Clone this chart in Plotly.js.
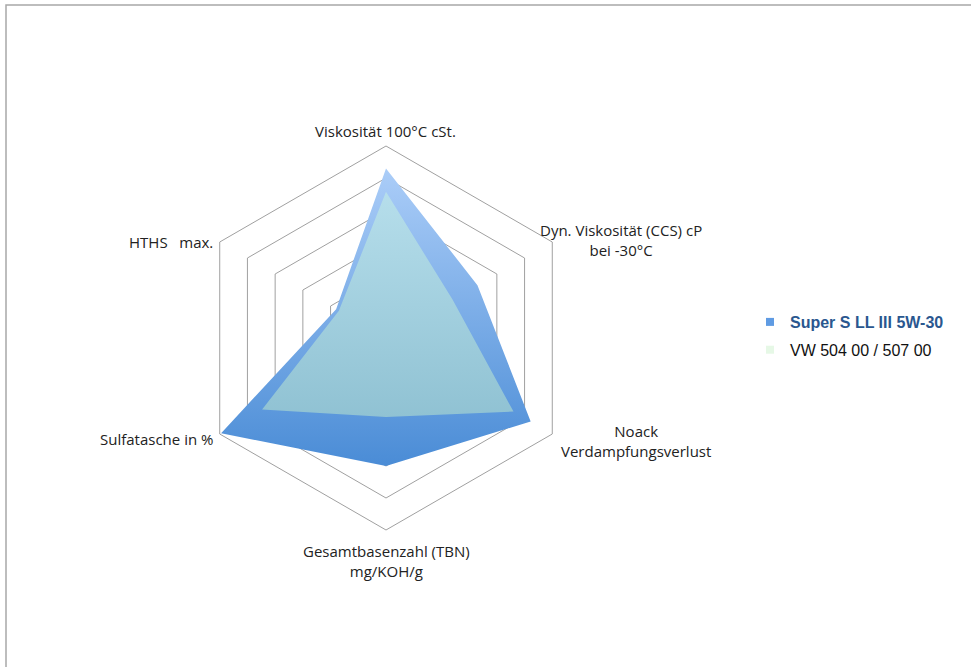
<!DOCTYPE html>
<html>
<head>
<meta charset="utf-8">
<script src="https://cdn.plot.ly/plotly-3.0.1.min.js"></script>
<style>
html, body { margin: 0; padding: 0; background: #fff; }
#chart { width: 971px; height: 667px; }
</style>
</head>
<body>
<div id="chart"></div>
<script>
// ---- data ----
var categories = [
  "Viskosität 100°C cSt.",
  "Dyn. Viskosität (CCS) cP<br>bei -30°C",
  "Noack<br>Verdampfungsverlust",
  "Gesamtbasenzahl (TBN)<br>mg/KOH/g",
  "Sulfatasche in %",
  "HTHS   max."
];
var seriesNames = ["Super S LL III 5W-30", "VW 504 00 / 507 00"];
var superS = [5.3, 3.3, 5.22, 4.0, 5.95, 1.8];
var vw = [4.57, 2.4, 4.6, 2.47, 4.47, 1.7];
var radialMax = 6;

// ---- layout helpers ----
var W = 971, H = 667;
function px(x) { return x / W; }
function py(y) { return 1 - y / H; }

var labelFont = { family: "'Open Sans', Lato, sans-serif", size: 15, color: "#222" };
var labelPos = [
  { x: 385, y: 131, xa: "center" },
  { x: 621, y: 240, xa: "center" },
  { x: 636, y: 441, xa: "center" },
  { x: 386, y: 561, xa: "center" },
  { x: 215, y: 439, xa: "right" },
  { x: 215, y: 242, xa: "right" }
];
var annotations = categories.map(function (c, i) {
  return {
    text: c, xref: "paper", yref: "paper",
    x: px(labelPos[i].x), y: py(labelPos[i].y),
    xanchor: labelPos[i].xa, yanchor: "middle", align: "center",
    showarrow: false, font: labelFont
  };
});

var traces = [
  {
    type: "scatterpolar", r: superS, theta: categories, fill: "toself",
    mode: "lines", line: { width: 0, color: "#5b98e0" },
    fillcolor: "#6ea5e6",
    showlegend: false, hoverinfo: "skip"
  },
  {
    type: "scatterpolar", r: vw, theta: categories, fill: "toself",
    mode: "lines", line: { width: 0, color: "#a3d0df" },
    fillcolor: "#a3d0df",
    showlegend: false, hoverinfo: "skip"
  },
  {
    type: "scatterpolar", r: [null], theta: [categories[0]], mode: "markers",
    marker: { symbol: "square", size: 8, color: "#5f9be3" },
    name: "<b><span style='color:#2a578f'>" + seriesNames[0] + "</span></b>",
    legendgroup: "a", showlegend: true
  },
  {
    type: "scatterpolar", r: [null], theta: [categories[0]], mode: "markers",
    marker: { symbol: "square", size: 8, color: "#e6f8e6" },
    name: seriesNames[1], legendgroup: "b", showlegend: true
  }
];

var layout = {
  width: W, height: H,
  margin: { l: 0, r: 0, t: 0, b: 0 },
  paper_bgcolor: "#fff",
  showlegend: true,
  legend: {
    x: px(750), y: py(336), xanchor: "left", yanchor: "middle",
    font: { family: "'Liberation Sans', Arial, sans-serif", size: 16, color: "#111" },
    tracegroupgap: 4, bgcolor: "rgba(0,0,0,0)"
  },
  polar: {
    domain: { x: [px(386 - 192), px(386 + 192)], y: [py(338 + 192), py(338 - 192)] },
    gridshape: "linear",
    bgcolor: "rgba(0,0,0,0)",
    radialaxis: {
      range: [0, radialMax], dtick: 1, showticklabels: false, ticks: "",
      showline: false, gridcolor: "#a0a0a0", gridwidth: 1
    },
    angularaxis: {
      rotation: 90, direction: "clockwise", showticklabels: false, ticks: "",
      showgrid: false, showline: true, linecolor: "#a0a0a0", linewidth: 1
    }
  },
  annotations: annotations,
  shapes: [
    { type: "rect", xref: "paper", yref: "paper", x0: px(6), x1: 1.2, y0: -0.2, y1: py(5),
      line: { color: "#a8a8a8", width: 1.5 }, fillcolor: "rgba(0,0,0,0)" }
  ]
};

// vertical gradients for the two area fills (colour styling only)
var gradients = [
  { id: "gradSuper", top: "#abcdf8", bottom: "#4a8cd6" },
  { id: "gradVW", top: "#b6deeb", bottom: "#90c2d3" }
];

Plotly.newPlot("chart", traces, layout, { displayModeBar: false, staticPlot: true }).then(function (gd) {
  var svg = gd.querySelector("svg.main-svg");
  var defs = svg.querySelector("defs");
  var ns = "http://www.w3.org/2000/svg";
  gradients.forEach(function (g) {
    var lg = document.createElementNS(ns, "linearGradient");
    lg.setAttribute("id", g.id);
    lg.setAttribute("x1", "0"); lg.setAttribute("y1", "0");
    lg.setAttribute("x2", "0"); lg.setAttribute("y2", "1");
    [[0, g.top], [1, g.bottom]].forEach(function (s) {
      var st = document.createElementNS(ns, "stop");
      st.setAttribute("offset", s[0]);
      st.setAttribute("stop-color", s[1]);
      lg.appendChild(st);
    });
    defs.appendChild(lg);
  });
  var fills = gd.querySelectorAll(".polarlayer .trace path.js-fill");
  fills.forEach(function (p, i) {
    if (gradients[i]) p.style.fill = "url(#" + gradients[i].id + ")";
  });
});
</script>
</body>
</html>
